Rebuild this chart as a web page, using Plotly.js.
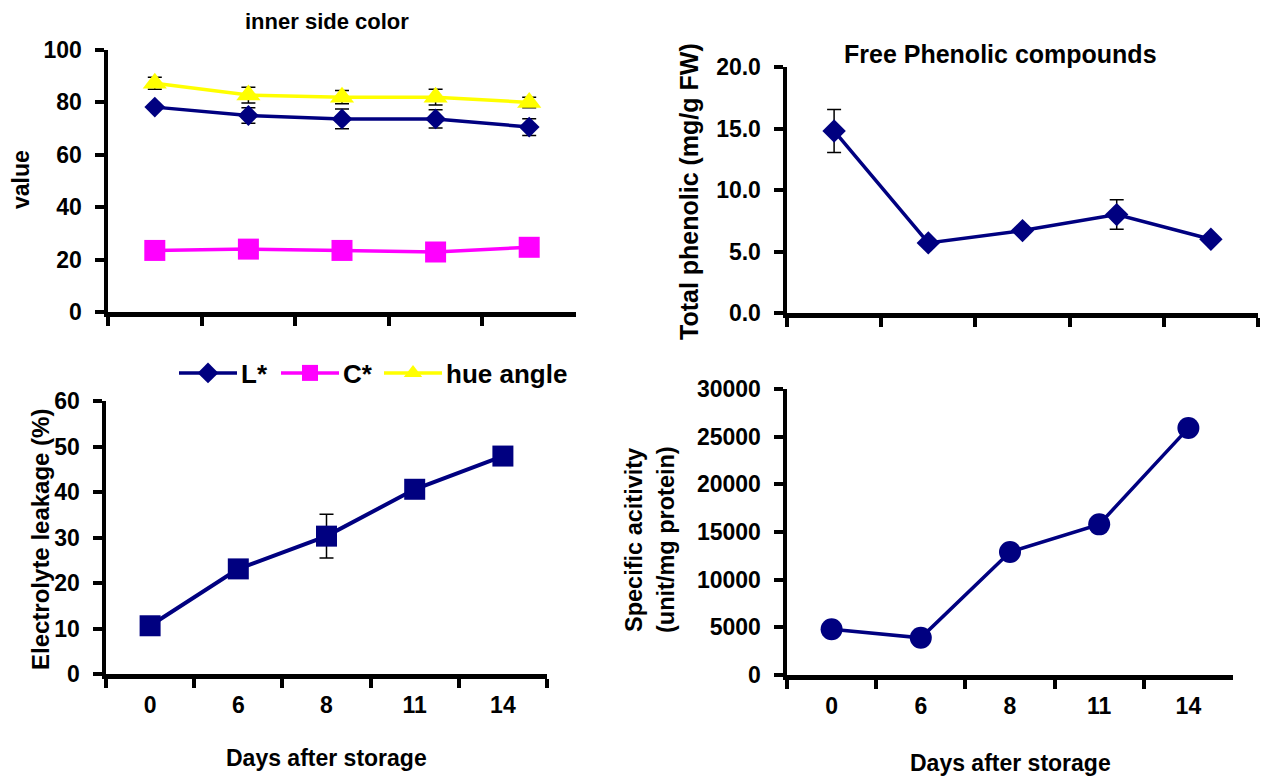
<!DOCTYPE html>
<html>
<head>
<meta charset="utf-8">
<script src="https://cdn.plot.ly/plotly-3.0.1.min.js"></script>
<style>html,body{margin:0;padding:0;background:#fff;}#chart{width:1269px;height:778px;}</style>
</head>
<body>
<div id="chart"></div>
<script>
// ---- data ----
var days = ['0', '6', '8', '11', '14'];

var lStar = [78.2, 75.0, 73.7, 73.7, 70.6];
var lStarErr = [0.8, 3.0, 3.8, 3.5, 3.2];
var cStar = [23.5, 24.0, 23.5, 22.9, 24.7];
var hueAngle = [87.3, 82.8, 82.0, 82.0, 80.0];
var hueErr = [2.3, 3.0, 2.5, 3.0, 2.0];

var phenolic = [14.8, 5.7, 6.7, 8.0, 6.0];
var phenolicErr = [1.75, 0.2, 0.2, 1.2, 0.2];

var leakage = [10.6, 23.1, 30.3, 40.6, 47.9];
var leakageErr = [0.5, 0.8, 4.8, 0.8, 0.5];

var activity = [4800, 3900, 12900, 15800, 25900];

// ---- styles ----
var FONT = 'Liberation Sans, Arial, sans-serif';
var NAVY = '#000080';
var W = 1269, H = 778;
function px(x) { return x / W; }
function py(y) { return 1 - y / H; }

var errStyle = function (arr) {
  return {type: 'data', array: arr, visible: true, color: '#000', thickness: 1.5, width: 7};
};

var traces = [
  {x: days, y: lStar, xaxis: 'x', yaxis: 'y', name: 'L*', mode: 'lines+markers',
   line: {color: NAVY, width: 3.5}, marker: {symbol: 'diamond', size: 16, color: NAVY},
   error_y: errStyle(lStarErr)},
  {x: days, y: cStar, xaxis: 'x', yaxis: 'y', name: 'C*', mode: 'lines+markers',
   line: {color: '#FF00FF', width: 3.5}, marker: {symbol: 'square', size: 21, color: '#FF00FF'}},
  {x: days, y: hueAngle, xaxis: 'x', yaxis: 'y', name: 'hue angle', mode: 'lines+markers',
   line: {color: '#FFFF00', width: 3.5}, marker: {symbol: 'triangle-up', size: 21, color: '#FFFF00'},
   error_y: errStyle(hueErr)},
  {x: days, y: phenolic, xaxis: 'x2', yaxis: 'y2', name: 'phenolic', showlegend: false, mode: 'lines+markers',
   line: {color: NAVY, width: 3.5}, marker: {symbol: 'diamond', size: 18, color: NAVY},
   error_y: errStyle(phenolicErr)},
  {x: days, y: leakage, xaxis: 'x3', yaxis: 'y3', name: 'leakage', showlegend: false, mode: 'lines+markers',
   line: {color: NAVY, width: 4}, marker: {symbol: 'square', size: 21, color: NAVY},
   error_y: errStyle(leakageErr)},
  {x: days, y: activity, xaxis: 'x4', yaxis: 'y4', name: 'activity', showlegend: false, mode: 'lines+markers',
   line: {color: NAVY, width: 3.5}, marker: {symbol: 'circle', size: 22, color: NAVY}}
];

function xAx(d0, d1, anchor, labels) {
  return {
    domain: [px(d0), px(d1)], anchor: anchor, type: 'category', range: [-0.5, 4.5],
    tickson: 'boundaries', ticks: 'outside', ticklen: 9, tickwidth: 4, tickcolor: '#000',
    showline: true, linewidth: 4.5, linecolor: '#000', showgrid: false, zeroline: false,
    showticklabels: labels, ticklabelstandoff: 7,
    tickfont: {family: FONT, size: 23, color: '#000', weight: 'bold'}, fixedrange: true
  };
}
function yAx(top, bottom, anchor, rng, dt, fmt) {
  return {
    domain: [py(bottom), py(top)], anchor: anchor, range: rng, dtick: dt, tick0: 0,
    tickformat: fmt, ticks: 'outside', ticklen: 9, tickwidth: 4, tickcolor: '#000',
    showline: true, linewidth: 4.5, linecolor: '#000', showgrid: false, zeroline: false,
    ticklabelstandoff: 8,
    tickfont: {family: FONT, size: 23, color: '#000', weight: 'bold'}, fixedrange: true
  };
}

function ann(text, x, y, size, angle) {
  return {text: text, x: px(x), y: py(y), xref: 'paper', yref: 'paper', showarrow: false,
    xanchor: 'center', yanchor: 'middle', textangle: angle || 0,
    font: {family: FONT, size: size, color: '#000', weight: 'bold'}};
}

var layout = {
  width: W, height: H, margin: {l: 0, r: 0, t: 0, b: 0},
  paper_bgcolor: '#fff', plot_bgcolor: 'rgba(0,0,0,0)',
  font: {family: FONT, color: '#000'},
  showlegend: true,
  legend: {orientation: 'h', x: px(174), xanchor: 'left', y: py(373), yanchor: 'middle',
    font: {family: FONT, size: 26, color: '#000', weight: 'bold'}, bgcolor: 'rgba(0,0,0,0)',
    entrywidthmode: 'pixels', entrywidth: 100},
  xaxis: xAx(108, 576, 'y', false),
  yaxis: yAx(50, 312, 'x', [0, 100], 20, 'd'),
  xaxis2: xAx(787, 1258, 'y2', false),
  yaxis2: yAx(67, 313, 'x2', [0, 20], 5, '.1f'),
  xaxis3: xAx(106, 547, 'y3', true),
  yaxis3: yAx(401, 674, 'x3', [0, 60], 10, 'd'),
  xaxis4: xAx(787, 1233, 'y4', true),
  yaxis4: yAx(389, 675, 'x4', [0, 30000], 5000, 'd'),
  annotations: [
    ann('inner side color', 327, 22, 22),
    ann('Free Phenolic compounds', 1000, 54, 25),
    ann('value', 21, 180, 23, -90),
    ann('Total phenolic (mg/g FW)', 689, 192, 25, -90),
    ann('Electrolyte leakage (%)', 40, 540, 24, -90),
    ann('Specific acitivity', 634, 540, 23.5, -90),
    ann('(unit/mg protein)', 666, 540, 23.5, -90),
    ann('Days after storage', 326, 758, 23),
    ann('Days after storage', 1010, 763, 23)
  ]
};

// legend entries drawn with longer line samples, as in the reference
function restyleLegend() {
  var gd = document.getElementById('chart');
  var sb = gd.querySelector('.legend .scrollbox');
  if (sb) sb.removeAttribute('clip-path');
  var items = gd.querySelectorAll('.legend .traces');
  var offsets = [0, 102, 205];
  items.forEach(function (g, i) {
    var tr = g.getAttribute('transform') || '';
    var m = /translate\(([-\d.]+)[ ,]+([-\d.]+)\)/.exec(tr);
    var ty = m ? parseFloat(m[2]) : 0;
    g.setAttribute('transform', 'translate(' + offsets[i] + ',' + ty + ')');
    g.querySelectorAll('.legendlines path').forEach(function (p) { p.setAttribute('d', 'M5,0h58'); });
    g.querySelectorAll('.legendpoints path').forEach(function (p) { p.setAttribute('transform', 'translate(34,0)'); });
    var t = g.querySelector('text.legendtext');
    if (t) t.setAttribute('x', '67');
  });
}

Plotly.newPlot('chart', traces, layout, {displayModeBar: false, staticPlot: true}).then(restyleLegend);
</script>
</body>
</html>
